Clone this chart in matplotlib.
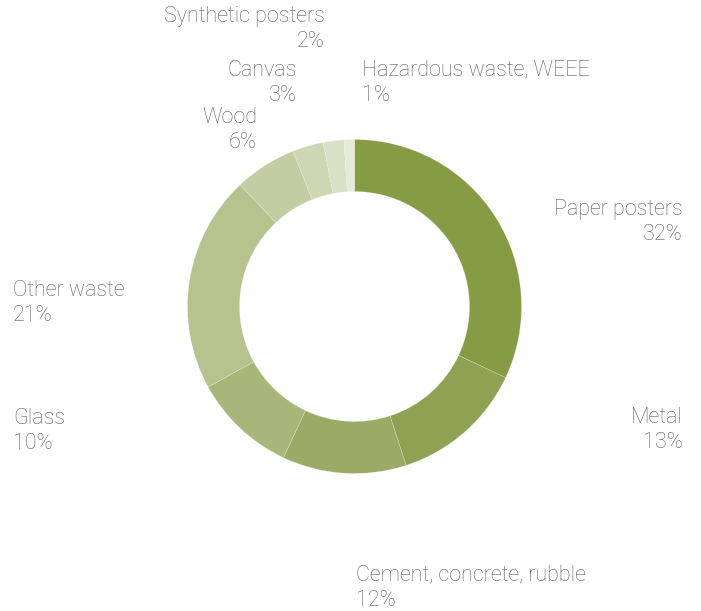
import matplotlib.pyplot as plt

labels = ['Paper posters', 'Metal', 'Cement, concrete, rubble', 'Glass', 'Other waste',
          'Wood', 'Canvas', 'Synthetic posters', 'Hazardous waste, WEEE']
shares = [32, 13, 12, 10, 21, 6, 3, 2, 1]
colors = ['#859c45', '#8fa253', '#9bab65', '#a8b67a', '#b7c28f',
          '#c3cca2', '#ced6b4', '#dae0c7', '#e6ead9']

# label anchors in pixels (x, last-line baseline y, alignment)
label_pos = [(683, 240, 'right'), (683, 448, 'right'), (356, 606, 'left'),
             (13, 449, 'left'), (13, 321, 'left'), (257, 148, 'right'),
             (297, 101, 'right'), (325, 47, 'right'), (362, 101, 'left')]

W, H = 701, 611
fig = plt.figure(figsize=(W / 100, H / 100), dpi=100)
ax = fig.add_axes([0, 0, 1, 1])
ax.set_xlim(0, W)
ax.set_ylim(0, H)
ax.set_aspect('equal')
ax.axis('off')

ax.pie(shares, colors=colors, startangle=90, counterclock=False,
       center=(354.5, H - 306.5), radius=167,
       wedgeprops=dict(width=52, edgecolor='#f4f6ee', linewidth=0.15))
ax.set_xlim(0, W)
ax.set_ylim(0, H)

for lab, val, (x, y, ha) in zip(labels, shares, label_pos):
    ax.text(x, H - y, '%s\n%d%%' % (lab, val), ha=ha, va='baseline',
            multialignment=ha, fontsize=15.5, family='Roboto', weight='light',
            color='#5e5e5e', linespacing=1.28)

fig.savefig('out.png', dpi=100)
